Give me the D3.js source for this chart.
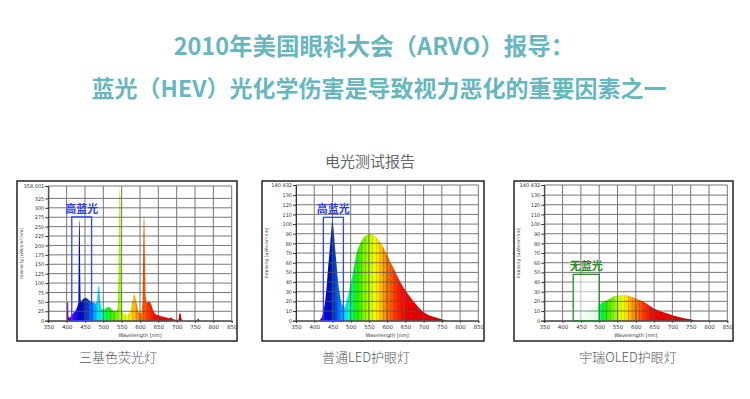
<!DOCTYPE html>
<html><head><meta charset="utf-8">
<script src="https://cdn.jsdelivr.net/npm/d3@7/dist/d3.min.js"></script>
<style>
body{margin:0;background:#fff;}
svg{display:block;}
</style></head>
<body>
<svg id="chart" width="750" height="399"></svg>
<script>
// ---------------- DATA ----------------
const titleLine1 = "2010年美国眼科大会（ARVO）报导：";
const titleLine2 = "蓝光（HEV）光化学伤害是导致视力恶化的重要因素之一";
const subtitle = "电光测试报告";
const captions = ["三基色荧光灯", "普通LED护眼灯", "宇瑞OLED护眼灯"];
const boxLabels = ["高蓝光", "高蓝光", "无蓝光"];

const wavelengthTicks = [350,400,450,500,550,600,650,700,750,800,850];
const fluoTicks = [0,25,50,75,100,125,150,175,200,225,250,275,300,325];
const fluoMax = 358.001;
const ledTicks = [0,10,20,30,40,50,60,70,80,90,100,110,120,130];
const ledMax = 140.432;

// three-band fluorescent lamp spectrum [nm, intensity]
const fluoSpectrum = [
[398,0],[401,0],[401.5,48],[404,50],[405,10],[408,8],[412,12],[416,18],[420,22],[425,28],[430,40],
[432,50],[433,180],[434,262],[435,268],[436,240],[437,120],[438,55],[440,52],[445,58],[450,61],[455,60],[460,56],
[465,52],[470,50],[475,48],[480,45],[483,52],[485,85],[487,93],[489,90],[491,55],[494,38],[497,30],
[502,30],[508,34],[513,37],[518,36],[523,30],[528,27],[533,25],[538,30],[540,45],[542,150],
[543.5,330],[545,358],[546.5,330],[548,150],[550,30],[553,22],[557,18],[562,16],[568,18],[573,25],[578,45],[582,65],
[585,72],[588,60],[592,40],[596,25],[600,20],[604,22],[607,55],[608.5,170],[610,265],[611,280],[612,262],[613.5,160],
[615,70],[618,48],[622,50],[626,52],[630,45],[635,30],[640,20],[645,15],[650,16],[655,12],
[660,12],[665,10],[670,9],[675,8],[680,6],[685,9],[690,4],[695,3],[700,2],[704,1],[706,8],
[707,20],[711,18],[713,5],[716,0],[755,0],[757,4],[760,5],[762,0]
];
// ordinary LED spectrum
const ledSpectrum = [
[414,0],[420,3],[425,8],[430,20],[434,35],[438,55],[443,76],[447,95],[450,108],[453,95],
[457,76],[462,55],[466,38],[471,25],[475,18],[480,14],[484,14],[490,22],[496,32],[503,44],
[510,58],[516,70],[525,79],[535,86],[545,89],[555,90],[565,88],[576,84],[588,77],[599,69],
[610,60],[621,52],[632,43],[644,35],[658,27],[672,20],[686,14],[699,9],[713,6],[727,4],
[740,2.5],[750,1.5],[760,0.5],[768,0]
];
// OLED spectrum (visible part) and faint short-wave tail
const oledSpectrum = [
[500,0],[500,17],[510,19],[520,21],[530,23],[539,25],[550,26],[560,26.7],[570,26.7],[580,26],
[590,24.5],[600,23],[610,21.5],[620,20],[634,16.5],[648,13],[666,10],[684,7.6],[702,5.3],
[721,3.5],[735,2.3],[748,1.4],[758,0.6],[766,0]
];
const oledFaint = [[412,0],[430,3],[450,7],[470,11],[490,15],[500,17],[500,0]];

// box ranges [nm start, nm end, top value]
const boxes = [[414,468,276],[425,480,107],[429,500,48]];

// ---------------- LAYOUT / STYLE ----------------
const svg = d3.select("#chart");
const teal = "#68b7bf";

svg.append("text").attr("x", 374).attr("y", 55).attr("text-anchor","middle")
  .style("font-family","'Noto Sans CJK SC', sans-serif").style("font-weight","700")
  .style("font-size","23.5px").style("fill",teal).text(titleLine1);
svg.append("text").attr("x", 379).attr("y", 97).attr("text-anchor","middle")
  .style("font-family","'Noto Sans CJK SC', sans-serif").style("font-weight","700")
  .style("font-size","23px").style("fill",teal).text(titleLine2);
svg.append("text").attr("x", 370).attr("y", 167).attr("text-anchor","middle")
  .style("font-family","'Noto Sans CJK SC', sans-serif")
  .style("font-size","15px").style("fill","#666").text(subtitle);

// spectrum colour stops (style)
const colorStops = [[380,'#6a006a'],[400,'#7a00b0'],[415,'#5a00e0'],[425,'#2000ff'],[435,'#0008c8'],
 [448,'#0018b0'],[458,'#0048e0'],[468,'#0078ff'],[478,'#00b4ff'],[488,'#00f0ff'],[498,'#00ffa0'],
 [508,'#00ff40'],[520,'#28f000'],[535,'#78f000'],[550,'#b4ff00'],[563,'#f0ff00'],[575,'#ffe000'],
 [588,'#ffa800'],[602,'#ff7800'],[618,'#ff4400'],[635,'#ff1800'],[655,'#f40000'],[720,'#e00000'],[780,'#c00000']];
const colorScale = d3.scaleLinear().domain(colorStops.map(d=>d[0])).range(colorStops.map(d=>d[1])).clamp(true);

const defs = svg.append("defs");

const panels = [
  {frame:[17,181,237,341], plot:[48.3,186,231.7,320.7], max:fluoMax, ticks:fluoTicks, data:fluoSpectrum,
   box:boxes[0], label:boxLabels[0], labelColor:"#2b3cf0", boxColor:"#3344ff", cap:captions[0], capX:118},
  {frame:[262,181,484,341], plot:[296,185,478.3,320.7], max:ledMax, ticks:ledTicks, data:ledSpectrum,
   box:boxes[1], label:boxLabels[1], labelColor:"#2b3cf0", boxColor:"#3344ff", cap:captions[1], capX:366},
  {frame:[514,181,733,341], plot:[544.3,185,727.3,320.7], max:ledMax, ticks:ledTicks, data:oledSpectrum,
   box:boxes[2], label:boxLabels[2], labelColor:"#2a8a2a", boxColor:"#2a8a2a", cap:captions[2], capX:628, faint:oledFaint}
];

panels.forEach((p,i)=>{
  const g = svg.append("g");
  const [fx0,fy0,fx1,fy1] = p.frame;
  const [px0,py0,px1,py1] = p.plot;
  const x = d3.scaleLinear().domain([350,850]).range([px0,px1]);
  const y = d3.scaleLinear().domain([0,p.max]).range([py1,py0]);

  // gradient
  const gid = "spec"+i;
  const grad = defs.append("linearGradient").attr("id",gid).attr("gradientUnits","userSpaceOnUse")
    .attr("x1",x(380)).attr("x2",x(780)).attr("y1",0).attr("y2",0);
  for(let w=380; w<=780; w+=2){
    const c = d3.color(colorScale(w));
    const band = ((w-380)%10)/10;
    const k = band < 0.2 ? 0.82 : 1;
    const cc = d3.rgb(c.r*k, c.g*k, c.b*k);
    grad.append("stop").attr("offset",((w-380)/400)).attr("stop-color",cc.formatHex());
  }

  // frame
  g.append("rect").attr("x",fx0).attr("y",fy0).attr("width",fx1-fx0).attr("height",fy1-fy0)
    .attr("fill","#fff").attr("stroke","#222").attr("stroke-width",1.5);

  const area = d3.area().x(d=>x(d[0])).y0(y(0)).y1(d=>y(d[1]));

  if(p.faint){
    const fg = "faint"+i;
    const fgrad = defs.append("linearGradient").attr("id",fg).attr("gradientUnits","userSpaceOnUse")
      .attr("x1",x(412)).attr("x2",x(500)).attr("y1",0).attr("y2",0);
    fgrad.append("stop").attr("offset",0).attr("stop-color","#ffffff");
    fgrad.append("stop").attr("offset",0.6).attr("stop-color","#e6f8e6");
    fgrad.append("stop").attr("offset",1).attr("stop-color","#a8f0b8");
    g.append("path").datum(p.faint).attr("d",area).attr("fill","url(#"+fg+")");
  }
  g.append("path").datum(p.data).attr("d",area).attr("fill","url(#"+gid+")");

  // grid
  const grid = g.append("g").attr("stroke","#555").attr("stroke-width",1).attr("opacity",0.8);
  wavelengthTicks.forEach(t=>{
    grid.append("line").attr("x1",x(t)).attr("x2",x(t)).attr("y1",y(p.max)).attr("y2",y(0));
  });
  p.ticks.concat([p.max]).forEach(t=>{
    grid.append("line").attr("x1",x(350)).attr("x2",x(850)).attr("y1",y(t)).attr("y2",y(t));
  });

  // axes
  const fontT = "'DejaVu Sans', sans-serif";
  const yAxis = d3.axisLeft(y).tickValues(p.ticks.concat([p.max])).tickSize(3)
    .tickFormat(d=> d===p.max ? d3.format(".3f")(d) : d);
  const ya = g.append("g").attr("transform",`translate(${px0},0)`).call(yAxis);
  ya.select(".domain").attr("stroke","#333");
  ya.selectAll("line").attr("stroke","#333");
  ya.selectAll("text").style("font-family",fontT).style("font-size","5px").style("fill","#333").attr("x",-4);
  const xAxis = d3.axisBottom(x).tickValues(wavelengthTicks).tickSize(2);
  const xa = g.append("g").attr("transform",`translate(0,${py1})`).call(xAxis);
  xa.select(".domain").attr("stroke","#333");
  xa.selectAll("line").attr("stroke","#333");
  xa.selectAll("text").style("font-family",fontT).style("font-size","5.5px").style("fill","#333").attr("y",4);

  g.append("text").attr("x",(px0+px1)/2).attr("y",py1+16).attr("text-anchor","middle")
    .style("font-family",fontT).style("font-size","5px").style("fill","#333").text("Wavelength [nm]");
  g.append("text").attr("transform",`translate(${fx0+6},${(py0+py1)/2}) rotate(-90)`).attr("text-anchor","middle")
    .style("font-family",fontT).style("font-size","4.5px").style("fill","#333").text("Intensity [uW/cm²/nm]");

  // box
  const [b0,b1,bt] = p.box;
  if(p.faint){
    g.append("rect").attr("x",x(b0)).attr("y",y(bt)).attr("width",x(b1)-x(b0)).attr("height",y(0)-y(bt))
      .attr("fill","#fff").attr("fill-opacity",0.55);
    g.append("line").attr("x1",x(b0)).attr("x2",x(b1)).attr("y1",y(10)).attr("y2",y(10))
      .attr("stroke",p.boxColor).attr("stroke-width",0.8).attr("opacity",0.6);
  }
  g.append("rect").attr("x",x(b0)).attr("y",y(bt)).attr("width",x(b1)-x(b0)).attr("height",y(0)-y(bt))
    .attr("fill","none").attr("stroke",p.boxColor).attr("stroke-width",1.3);
  g.append("text").attr("x",(x(b0)+x(b1))/2).attr("y",y(bt)-4).attr("text-anchor","middle")
    .style("font-family","'Noto Sans CJK SC', sans-serif").style("font-weight","700")
    .style("font-size","11px").style("fill",p.labelColor).text(p.label);

  // caption
  svg.append("text").attr("x",p.capX).attr("y",362).attr("text-anchor","middle")
    .style("font-family","'Noto Sans CJK SC', sans-serif").style("font-weight","300")
    .style("font-size","13px").style("fill","#555").text(p.cap);
});
</script>
</body></html>
